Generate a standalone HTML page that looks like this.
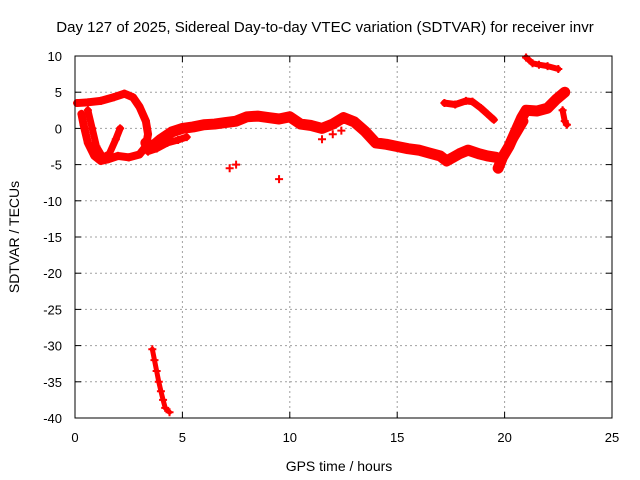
<!DOCTYPE html>
<html><head><meta charset="utf-8"><style>
body{margin:0;background:#fff}
svg{display:block;font-family:"Liberation Sans",sans-serif;font-size:13px}
</style></head><body>
<svg id="chart" width="640" height="480">
<rect width="640" height="480" fill="#fff"/>
<text x="325" y="32" text-anchor="middle" font-size="15">Day 127 of 2025, Sidereal Day-to-day VTEC variation (SDTVAR) for receiver invr</text>
<text x="339" y="471" text-anchor="middle" font-size="14">GPS time / hours</text>
<text transform="translate(19,237) rotate(-90)" text-anchor="middle" font-size="14">SDTVAR / TECUs</text>
<g id="grid"></g><g id="marks"></g>
<rect x="75" y="56" width="537" height="362" fill="none" stroke="#000"/>
</svg>
<script>
const xTicks=[0,5,10,15,20,25];
const yTicks=[-40,-35,-30,-25,-20,-15,-10,-5,0,5,10];
const loopX=[0.1,0.6,1.2,1.8,2.3,2.7,3.0,3.3,3.4,3.3,3.0,2.5,2.0,1.5,1.2,0.9,0.6,0.4,0.3];
const loopY=[3.5,3.6,3.8,4.3,4.8,4.3,3.0,1.0,-0.8,-2.5,-3.6,-4.0,-3.8,-4.3,-4.5,-3.8,-2.0,0.5,2.0];
const loop2X=[0.6,0.8,1.0,1.3,1.6,1.9,2.1];
const loop2Y=[2.5,0.0,-2.5,-4.0,-3.5,-1.5,0.0];
const mainX=[3.3,3.6,4.0,4.5,5.0,5.5,6.0,6.5,7.0,7.5,8.0,8.5,9.0,9.5,10.0,10.5,11.0,11.5,12.0,12.5,13.0,13.5,14.0,14.5,15.0,15.5,16.0,16.5,17.0,17.3,17.6,17.9,18.3,18.8,19.2,19.6];
const mainY=[-2.0,-2.5,-1.5,-0.5,0.0,0.2,0.5,0.6,0.8,1.0,1.6,1.7,1.5,1.3,1.6,0.6,0.4,0.0,0.6,1.5,0.9,-0.4,-2.0,-2.2,-2.5,-2.8,-3.0,-3.4,-3.8,-4.5,-4.0,-3.5,-3.0,-3.5,-3.8,-4.0];
const branchX=[3.4,3.8,4.3,4.8,5.2];
const branchY=[-3.2,-2.8,-2.0,-1.6,-1.2];
const arcX=[17.2,17.7,18.2,18.5,18.9,19.2,19.5];
const arcY=[3.5,3.3,3.8,3.7,2.8,2.0,1.2];
const riseX=[19.7,19.9,20.2,20.5,20.8,21.0,21.5,22.0,22.4,22.8];
const riseY=[-5.5,-4.0,-2.5,-0.5,1.5,2.5,2.4,2.8,4.0,5.0];
const rise2X=[20.0,20.3,20.6,20.9];
const rise2Y=[-3.5,-2.0,-0.5,1.0];
const topX=[21.0,21.3,21.6,22.0,22.5];
const topY=[9.8,9.0,8.8,8.6,8.2];
const tailX=[22.7,22.8,22.9];
const tailY=[2.5,1.0,0.5];
const smallX=[7.2,7.5,9.5,11.5,12.0,12.4];
const smallY=[-5.5,-5.0,-7.0,-1.5,-0.8,-0.3];
const outX=[3.6,3.7,3.8,3.9,4.0,4.1,4.2,4.4];
const outY=[-30.5,-32,-33.5,-35,-36.3,-37.5,-38.6,-39.2];
const sx=v=>75+v*537/25, sy=v=>56+(10-v)*362/50;
const NS='http://www.w3.org/2000/svg';
const g=document.getElementById('grid'), m=document.getElementById('marks');
function mk(t,a,p){const e=document.createElementNS(NS,t);for(const k in a)e.setAttribute(k,a[k]);p.appendChild(e);return e;}
xTicks.forEach(v=>{
  const x=sx(v);
  if(v>0&&v<25){const l=mk('line',{x1:x,x2:x,y1:56,y2:418,stroke:'#a0a0a0','stroke-dasharray':'2,3'},g);
  
  }
  mk('line',{x1:x,x2:x,y1:418,y2:412,stroke:'#000'},g);mk('line',{x1:x,x2:x,y1:56,y2:62,stroke:'#000'},g);
  const t=mk('text',{x:x,y:442,'text-anchor':'middle'},g);t.textContent=v;
  
  
});
yTicks.forEach(v=>{
  const y=sy(v);
  if(v>-40&&v<10){const l=mk('line',{x1:75,x2:612,y1:y,y2:y,stroke:'#a0a0a0','stroke-dasharray':'2,3'},g);
  
  }
  mk('line',{x1:75,x2:81,y1:y,y2:y,stroke:'#000'},g);mk('line',{x1:612,x2:606,y1:y,y2:y,stroke:'#000'},g);
  const t=mk('text',{x:62,y:y+5,'text-anchor':'end'},g);t.textContent=v;
  
  
});
function series(xs,ys,w,name,line){
  if(line){const p=mk('polyline',{points:xs.map((x,i)=>sx(x)+','+sy(ys[i])).join(' '),fill:'none',stroke:'#f00','stroke-width':w,'stroke-linejoin':'round','stroke-linecap':'round'},m);
  
  }
  xs.forEach((x,i)=>{const X=sx(x),Y=sy(ys[i]);
    const pt=mk('path',{d:`M${X-4},${Y}h8M${X},${Y-4}v8`,stroke:'#f00','stroke-width':2},m);
    
    });
}
series(loopX,loopY,8,'loop-track',true);
series(loop2X,loop2Y,7,'inner-loop-track',true);
series(mainX,mainY,11,'main-track',true);
series(branchX,branchY,7,'branch-track',true);
series(arcX,arcY,7,'arc-track',true);
series(riseX,riseY,11,'rise-track',true);
series(rise2X,rise2Y,9,'rise2-track',true);
series(topX,topY,6,'top-track',true);
series(tailX,tailY,6,'tail-track',true);
series(smallX,smallY,5,'small-points',false);
series(outX,outY,5,'outlier-track',true);
</script>
</body></html>
